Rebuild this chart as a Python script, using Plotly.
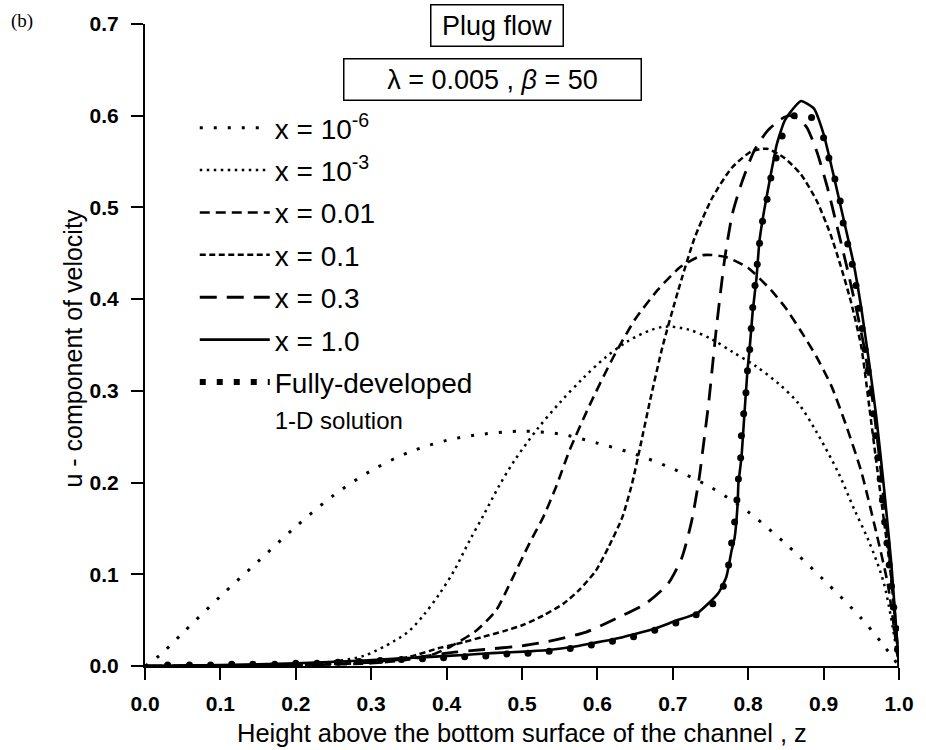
import plotly.graph_objects as go

# ---------------- data ----------------
z_x1e6 = [0, 0.02, 0.05, 0.1, 0.15, 0.2, 0.25, 0.3, 0.35, 0.4, 0.45, 0.5, 0.55,
          0.6, 0.65, 0.7, 0.75, 0.8, 0.85, 0.9, 0.95, 0.98, 1.0]
u_x1e6 = [0, 0.012, 0.036, 0.076, 0.114, 0.152, 0.186, 0.213, 0.233, 0.246, 0.253,
          0.256, 0.253, 0.243, 0.231, 0.215, 0.195, 0.168, 0.133, 0.094, 0.052, 0.022, 0]

z_x1e3 = [0, 0.1, 0.2, 0.25, 0.29, 0.33, 0.35, 0.37, 0.39, 0.41, 0.43, 0.45, 0.47,
          0.49, 0.52, 0.55, 0.58, 0.61, 0.64, 0.67, 0.69, 0.72, 0.75, 0.78, 0.81,
          0.84, 0.865, 0.89, 0.92, 0.94, 0.96, 0.98, 1.0]
u_x1e3 = [0, 0.0005, 0.002, 0.005, 0.011, 0.027, 0.038, 0.056, 0.078, 0.104, 0.136,
          0.166, 0.197, 0.224, 0.258, 0.287, 0.313, 0.336, 0.354, 0.366, 0.370, 0.367,
          0.357, 0.342, 0.327, 0.308, 0.288, 0.256, 0.210, 0.172, 0.136, 0.090, 0]

z_x001 = [0, 0.2, 0.3, 0.35, 0.38, 0.405, 0.44, 0.466, 0.484, 0.51, 0.528, 0.545,
          0.563, 0.59, 0.62, 0.65, 0.68, 0.71, 0.74, 0.77, 0.8, 0.83, 0.85, 0.87,
          0.89, 0.91, 0.93, 0.95, 0.97, 0.985, 1.0]
u_x001 = [0, 0.001, 0.003, 0.007, 0.012, 0.021, 0.039, 0.061, 0.09, 0.134, 0.162, 0.195,
          0.235, 0.285, 0.335, 0.378, 0.41, 0.435, 0.448, 0.446, 0.434, 0.41, 0.39, 0.365,
          0.338, 0.306, 0.262, 0.212, 0.145, 0.09, 0]

z_x01 = [0, 0.2, 0.3, 0.35, 0.392, 0.423, 0.449, 0.476, 0.502, 0.528, 0.555, 0.576,
         0.598, 0.615, 0.633, 0.646, 0.657, 0.67, 0.686, 0.707, 0.729, 0.752, 0.778,
         0.804, 0.825, 0.848, 0.87, 0.891, 0.909, 0.922, 0.936, 0.95, 0.961, 0.97,
         0.979, 0.988, 0.996, 1.0]
u_x01 = [0, 0.001, 0.004, 0.01, 0.02, 0.026, 0.032, 0.038, 0.045, 0.055, 0.068, 0.083,
         0.104, 0.13, 0.162, 0.199, 0.24, 0.29, 0.347, 0.409, 0.467, 0.51, 0.543,
         0.561, 0.564, 0.554, 0.536, 0.507, 0.471, 0.438, 0.398, 0.348, 0.28, 0.222,
         0.165, 0.108, 0.04, 0]

z_x03 = [0, 0.2, 0.3, 0.35, 0.4, 0.45, 0.5, 0.53, 0.585, 0.62, 0.664, 0.694, 0.712,
         0.725, 0.735, 0.742, 0.748, 0.753, 0.758, 0.769, 0.779, 0.791, 0.808, 0.825,
         0.843, 0.855, 0.868, 0.878, 0.891, 0.905, 0.917, 0.93, 0.944, 0.953, 0.965,
         0.975, 0.985, 0.993, 1.0]
u_x03 = [0, 0.001, 0.004, 0.008, 0.014, 0.018, 0.022, 0.026, 0.037, 0.05, 0.068, 0.09,
         0.118, 0.158, 0.205, 0.25, 0.29, 0.33, 0.37, 0.445, 0.493, 0.526, 0.562, 0.583,
         0.596, 0.6, 0.596, 0.587, 0.561, 0.522, 0.482, 0.438, 0.387, 0.351, 0.29,
         0.22, 0.14, 0.07, 0]

z_x10 = [0, 0.1, 0.2, 0.29, 0.335, 0.379, 0.423, 0.46, 0.51, 0.541, 0.568, 0.594,
         0.62, 0.65, 0.677, 0.703, 0.733, 0.76, 0.771, 0.778, 0.782, 0.786, 0.787,
         0.791, 0.795, 0.799, 0.802, 0.806, 0.811, 0.815, 0.821, 0.83, 0.838, 0.848,
         0.857, 0.87, 0.887, 0.9, 0.913, 0.926, 0.94, 0.95, 0.96, 0.97, 0.98, 0.99, 1.0]
u_x10 = [0, 0.001, 0.003, 0.006, 0.008, 0.01, 0.012, 0.014, 0.016, 0.018, 0.021, 0.025,
         0.029, 0.035, 0.041, 0.049, 0.058, 0.079, 0.097, 0.126, 0.14, 0.177, 0.199,
         0.227, 0.275, 0.322, 0.347, 0.387, 0.423, 0.464, 0.496, 0.536, 0.569, 0.594,
         0.605, 0.616, 0.608, 0.58, 0.536, 0.489, 0.438, 0.39, 0.333, 0.271, 0.195,
         0.11, 0]

z_fd = [0.03, 0.059, 0.087, 0.115, 0.143, 0.172, 0.2, 0.228, 0.256, 0.284, 0.312, 0.34,
        0.368, 0.396, 0.424, 0.452, 0.48, 0.508, 0.536, 0.564, 0.592, 0.62, 0.648,
        0.676, 0.704, 0.731, 0.753, 0.767, 0.774, 0.778, 0.782, 0.785, 0.787, 0.79,
        0.791, 0.794, 0.797, 0.799, 0.802, 0.804, 0.806, 0.809, 0.812, 0.815, 0.819,
        0.825, 0.83, 0.837, 0.845, 0.861, 0.884, 0.9, 0.907, 0.915, 0.922, 0.926,
        0.932, 0.938, 0.943, 0.947, 0.951, 0.955, 0.959, 0.962, 0.966, 0.969, 0.972,
        0.975, 0.978, 0.981, 0.984, 0.987, 0.99, 0.993, 0.996, 0.998]
u_fd = [0.001, 0.001, 0.001, 0.002, 0.002, 0.002, 0.003, 0.003, 0.004, 0.005, 0.006,
        0.007, 0.008, 0.009, 0.010, 0.011, 0.013, 0.014, 0.016, 0.019, 0.023, 0.027,
        0.032, 0.039, 0.047, 0.056, 0.068, 0.087, 0.11, 0.134, 0.157, 0.181, 0.204,
        0.227, 0.251, 0.275, 0.298, 0.322, 0.345, 0.368, 0.391, 0.415, 0.438, 0.461,
        0.485, 0.509, 0.532, 0.554, 0.578, 0.6, 0.598, 0.576, 0.554, 0.531, 0.507,
        0.483, 0.46, 0.438, 0.415, 0.39, 0.368, 0.345, 0.322, 0.298, 0.275, 0.251,
        0.227, 0.204, 0.181, 0.157, 0.134, 0.11, 0.087, 0.064, 0.041, 0.018]

x_ticks = [0.0, 0.1, 0.2, 0.3, 0.4, 0.5, 0.6, 0.7, 0.8, 0.9, 1.0]
y_ticks = [0.0, 0.1, 0.2, 0.3, 0.4, 0.5, 0.6, 0.7]

legend_names = ["x = 10<sup>-6</sup>", "x = 10<sup>-3</sup>", "x = 0.01", "x = 0.1",
                "x = 0.3", "x = 1.0",
                "Fully-developed<br><span style='font-size:24px'>1-D solution</span>"]

# ---------------- figure ----------------
SANS = "Liberation Sans, Arial, Helvetica, sans-serif"
fig = go.Figure()

curves = [
    (z_x1e6, u_x1e6, "3px,11px", 3.0, 0.9),
    (z_x1e3, u_x1e3, "2.5px,4.5px", 2.5, 0.9),
    (z_x001, u_x001, "10px,6px", 2.6, 0.6),
    (z_x01, u_x01, "6px,3.5px", 2.5, 0.6),
    (z_x03, u_x03, "17px,10px", 2.8, 0.6),
    (z_x10, u_x10, "solid", 2.6, 0.5),
]
for i, (zz, uu, dash, w, sm) in enumerate(curves):
    fig.add_trace(go.Scatter(
        x=zz, y=uu, mode="lines", name=legend_names[i], legendgroup=f"g{i}",
        line=dict(color="black", width=w, dash=dash, shape="spline", smoothing=sm),
        hoverinfo="skip"))

# fully developed: dots on curve + legend proxy
fig.add_trace(go.Scatter(
    x=z_fd, y=u_fd, mode="markers", showlegend=False,
    marker=dict(color="black", size=7, symbol="circle"), hoverinfo="skip"))
fig.add_trace(go.Scatter(
    x=[None], y=[None], mode="lines", name=legend_names[6], legendgroup="g6",
    line=dict(color="black", width=6, dash="6px,11px")))

fig.update_layout(
    width=926, height=750,
    margin=dict(l=145, r=20, t=23, b=84),
    paper_bgcolor="white", plot_bgcolor="white",
    font=dict(family=SANS, color="black"),
    showlegend=True,
    legend=dict(x=0.066, y=0.877, xanchor="left", yanchor="top",
                bgcolor="rgba(0,0,0,0)", borderwidth=0,
                font=dict(family=SANS, size=28, color="black"),
                tracegroupgap=3, itemwidth=70, valign="top",
                itemclick=False, itemdoubleclick=False),
    xaxis=dict(range=[0, 1.0], tickvals=x_ticks, tickformat=".1f",
               showline=True, linecolor="black", linewidth=2,
               ticks="outside", ticklen=12, tickwidth=2, tickcolor="black",
               showgrid=False, zeroline=False, ticklabelstandoff=6,
               tickfont=dict(family=SANS, size=21, weight="bold", color="black")),
    yaxis=dict(range=[0, 0.7], tickvals=y_ticks, tickformat=".1f",
               showline=True, linecolor="black", linewidth=2,
               ticks="outside", ticklen=12, tickwidth=2, tickcolor="black",
               showgrid=False, zeroline=False, ticklabelstandoff=8,
               tickfont=dict(family=SANS, size=21, weight="bold", color="black")),
    annotations=[
        dict(text="Height above the bottom surface of the channel , z",
             xref="paper", yref="paper", x=0.5, y=-0.104, xanchor="center",
             yanchor="middle", showarrow=False,
             font=dict(family=SANS, size=25.5, color="black")),
        dict(text="u - component of velocity", textangle=-90,
             xref="paper", yref="paper", x=-0.095, y=0.495, xanchor="center",
             yanchor="middle", showarrow=False,
             font=dict(family=SANS, size=25, color="black")),
        dict(text="Plug flow", xref="paper", yref="paper", x=0.4665, y=0.998,
             xanchor="center", yanchor="middle", showarrow=False,
             width=125, height=34, borderpad=3, bordercolor="black", borderwidth=1.5,
             font=dict(family=SANS, size=27, color="black")),
        dict(text="λ = 0.005 , <i>β</i> = 50", xref="paper", yref="paper",
             x=0.461, y=0.9137, xanchor="center", yanchor="middle", showarrow=False,
             width=290, height=34, borderpad=3, bordercolor="black", borderwidth=1.5,
             font=dict(family=SANS, size=27, color="black")),
        dict(text="(b)", xref="paper", yref="paper", x=-0.163, y=1.0047,
             xanchor="center", yanchor="middle", showarrow=False,
             font=dict(family="Liberation Serif, Times New Roman, serif", size=19,
                       color="black")),
    ],
)

fig.write_html("out.html")
